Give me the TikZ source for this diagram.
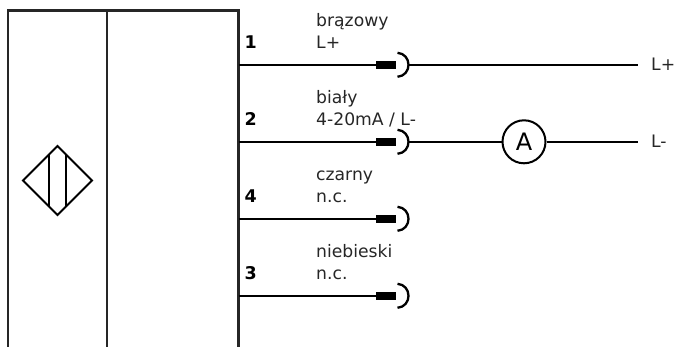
\documentclass[tikz,border=0pt]{standalone}
\usepackage{fontspec}
\setmainfont{DejaVu Sans}
\tikzset{
  frame/.style={draw=black!85,line width=2.2pt},
  wire/.style={draw=black,line width=2.2pt},
  sym/.style={draw=black,line width=2pt,line join=miter},
  plug/.style={draw=none,fill=black,minimum width=20pt,minimum height=7.5pt,inner sep=0pt},
  lbl/.style={anchor=base west,inner sep=0pt,font=\fontsize{17.2pt}{20pt}\selectfont,text=black!85},
  pin/.style={anchor=base west,inner sep=0pt,font=\fontsize{17.5pt}{20pt}\selectfont\bfseries},
  meter/.style={circle,draw=black,line width=2pt,minimum size=43pt,inner sep=0pt,font=\fontsize{24pt}{27pt}\selectfont,fill=white},
  socket/.style={draw=black,line width=2.3pt}
}
\begin{document}
\begin{tikzpicture}[x=1pt,y=-1pt]
\useasboundingbox (0,0) rectangle (675,347);
\clip (0,0) rectangle (675,347);
% housing
\draw[frame] (8,352) -- (8,10.5) -- (238.5,10.5) -- (238.5,352);
\draw[frame] (107,10.5) -- (107,352);
% sensor symbol
\draw[sym] (23,180.5) -- (57.5,146) -- (92,180.5) -- (57.5,215) -- cycle;
\draw[sym] (49,154.5) -- (49,206.5);
\draw[sym] (66,154.5) -- (66,206.5);
% terminals
\coordinate (t1) at (238.5,64.8);
\coordinate (t2) at (238.5,141.8);
\coordinate (t4) at (238.5,218.8);
\coordinate (t3) at (238.5,295.8);
% plugs
\node[plug] (p1) at (386,64.8) {};
\node[plug] (p2) at (386,141.8) {};
\node[plug] (p4) at (386,218.8) {};
\node[plug] (p3) at (386,295.8) {};
\draw[wire] (t1) -- (p1.west);
\draw[wire] (t2) -- (p2.west);
\draw[wire] (t4) -- (p4.west);
\draw[wire] (t3) -- (p3.west);
% sockets
\coordinate (s1) at (408.5,64.8);
\coordinate (s2) at (408.5,141.8);
\coordinate (s4) at (408.5,218.8);
\coordinate (s3) at (408.5,295.8);
\foreach \s in {s1,s2,s4,s3}{
  \draw[socket] ([shift={(-11,-12)}]\s) .. controls ([shift={(-4,-11.5)}]\s) and ([shift={(0,-6)}]\s) .. (\s) .. controls ([shift={(0,6)}]\s) and ([shift={(-4,11.5)}]\s) .. ([shift={(-11,12)}]\s);
}
% outer wires
\coordinate (e1) at (638,64.8);
\coordinate (e2) at (638,141.8);
\node[meter] (A) at (524,141.8) {A};
\draw[wire] (s1) -- (e1);
\draw[wire] (s2) -- (A);
\draw[wire] (A) -- (e2);
% labels
\node[pin] (n1) at (244.5,49) {1};
\node[pin] (n2) at (244.5,126) {2};
\node[pin] (n4) at (244.5,203) {4};
\node[pin] (n3) at (244.5,280) {3};
\node[lbl] (a1) at (316,27) {brązowy};
\node[lbl] (b1) at (316,49) {L+};
\node[lbl] (a2) at (316,104) {biały};
\node[lbl] (b2) at (316,126) {4-20mA / L-};
\node[lbl] (a4) at (316,181) {czarny};
\node[lbl] (b4) at (316,203) {n.c.};
\node[lbl] (a3) at (316,258) {niebieski};
\node[lbl] (b3) at (316,280) {n.c.};
\node[lbl] (eL1) at (651,70.5) {L+};
\node[lbl] (eL2) at (651,147.5) {L-};
\end{tikzpicture}
\end{document}
